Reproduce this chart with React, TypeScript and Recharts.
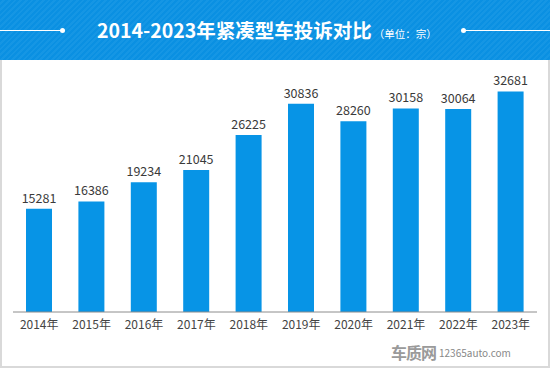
import { BarChart, Bar, XAxis, YAxis, LabelList } from 'recharts';

const years = ['2014年', '2015年', '2016年', '2017年', '2018年', '2019年', '2020年', '2021年', '2022年', '2023年'];
const complaints = [15281, 16386, 19234, 21045, 26225, 30836, 28260, 30158, 30064, 32681];

const data = years.map((y, i) => ({ year: y, v: complaints[i] }));

const FONT = '"Noto Sans CJK SC", "Noto Sans", sans-serif';

export default function App() {
  return (
    <div style={{ position: 'absolute', left: 0, top: 0, width: 550, height: 368, background: '#fff', fontFamily: FONT, overflow: 'hidden' }}>
      {/* frame */}
      <div style={{ position: 'absolute', left: 0, top: 0, width: 546, height: 364, border: '2px solid #d9d9d9' }} />

      {/* header band */}
      <div
        style={{
          position: 'absolute', left: 0, top: 0, width: 550, height: 60,
          background: 'repeating-linear-gradient(135deg, #0a90e2 0px, #0a90e2 2px, #1596e4 2px, #1596e4 4px)',
        }}
      >
        <div style={{ position: 'absolute', left: 0, top: 30, width: 62, height: 1, background: '#fff' }} />
        <div style={{ position: 'absolute', left: 60, top: 28, width: 5, height: 5, borderRadius: 3, background: '#fff' }} />
        <div style={{ position: 'absolute', left: 465, top: 30, width: 85, height: 1, background: '#fff' }} />
        <div style={{ position: 'absolute', left: 461, top: 28, width: 5, height: 5, borderRadius: 3, background: '#fff' }} />
        <div style={{ position: 'absolute', left: 97, top: 15, color: '#fff', whiteSpace: 'nowrap', lineHeight: '30px' }}>
          <span style={{ fontSize: 19.5, fontWeight: 700 }}>2014-2023年紧凑型车投诉对比</span>
          <span style={{ fontSize: 10.5, marginLeft: 2 }}>（单位：宗）</span>
        </div>
      </div>

      <div style={{ position: 'absolute', left: 0, top: 0 }}>
        <BarChart width={550} height={368} data={data} margin={{ top: 69, right: 13, bottom: 26, left: 13 }}>
          <XAxis
            dataKey="year"
            axisLine={{ stroke: '#8c8c8c', strokeWidth: 1 }}
            tickLine={false}
            tick={{ fill: '#444', fontSize: 12, fontFamily: FONT }}
            interval={0}
          />
          <YAxis hide domain={[0, 36000]} />
          <Bar dataKey="v" fill="#0794e6" barSize={26} isAnimationActive={false}>
            <LabelList dataKey="v" position="top" offset={6} fill="#3a3a3a" fontSize={12.5} fontFamily={FONT} />
          </Bar>
        </BarChart>
      </div>

      {/* watermark */}
      <div style={{ position: 'absolute', left: 391, top: 340, color: '#9a9a9a', whiteSpace: 'nowrap', display: 'flex', alignItems: 'center' }}>
        <span style={{ fontSize: 16, fontWeight: 700, letterSpacing: -1 }}>车质网</span>
        <span style={{ fontSize: 10, marginLeft: 3, color: '#888' }}>12365auto.com</span>
      </div>
    </div>
  );
}
